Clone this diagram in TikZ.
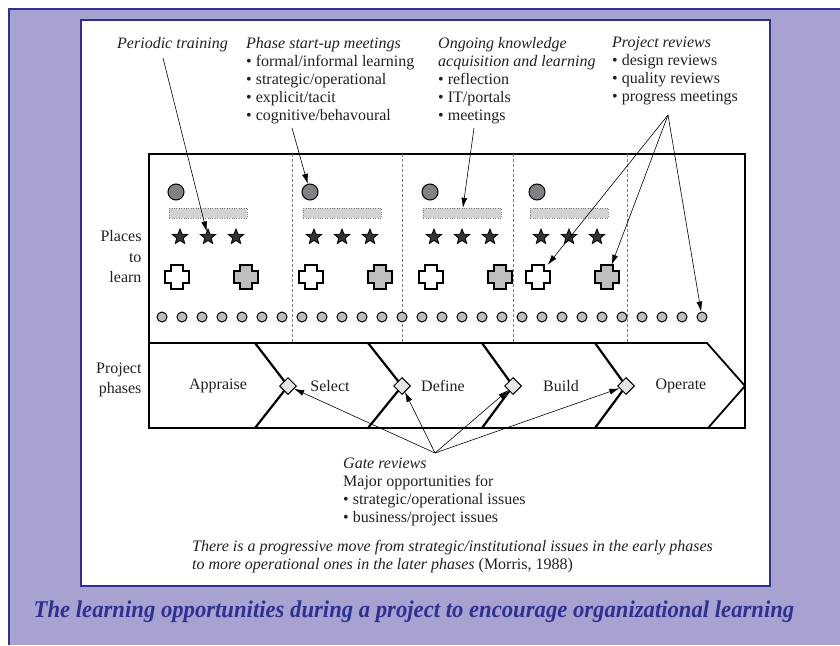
\documentclass[tikz,border=0pt]{standalone}
\usepackage{fontspec}
\setmainfont{Liberation Serif}
\usepackage{graphicx}
\usetikzlibrary{positioning,calc,shapes.geometric,arrows.meta}
\definecolor{panelblue}{HTML}{2E3192}
\definecolor{lilac}{HTML}{A7A2D0}
\definecolor{inkgray}{HTML}{231F20}
\definecolor{dotgray}{HTML}{BCBEC0}
\definecolor{ballgray}{HTML}{808285}
\definecolor{bargray}{HTML}{D1D3D4}
\definecolor{crossgray}{HTML}{BCBEC0}

% plus sign drawn round a named node
\newcommand\drawplus[2]{%
  \draw[line width=1.3pt,fill=#2] (#1.center) ++(-6,-12) -- ++(12,0) -- ++(0,6)
    -- ++(6,0) -- ++(0,12) -- ++(-6,0) -- ++(0,6) -- ++(-12,0) -- ++(0,-6)
    -- ++(-6,0) -- ++(0,-12) -- ++(6,0) -- cycle;}

\tikzset{
  every node/.style={font=\fontsize{16}{18}\selectfont,text=inkgray},
  ball/.style={circle,draw=black,fill=ballgray,line width=1pt,minimum size=16pt,inner sep=0pt},
  learnbar/.style={draw=gray,dotted,fill=bargray,minimum width=78pt,minimum height=10pt,inner sep=0pt},
  starmark/.style={star,star points=5,star point ratio=2.3,draw=black,fill=black!80,minimum size=16pt,inner sep=0pt,line width=0.8pt},
  dotmark/.style={circle,draw=black,fill=dotgray,line width=1pt,minimum size=10pt,inner sep=0pt},
  gatemark/.style={diamond,draw=black,fill=gray!20,line width=1pt,minimum size=17pt,inner sep=0pt},
  crossmark/.style={minimum size=24pt,inner sep=0pt},
  pointer/.style={-{Latex[length=10pt,width=6pt]},line width=0.6pt},
  frameline/.style={line width=1.8pt},
  chevron/.style={line width=2.2pt},
  colsep/.style={gray,line width=0.6pt,dash pattern=on 3pt off 2pt},
  note/.style={align=left,inner sep=0pt,anchor=north west},
}

\begin{document}
\begin{tikzpicture}[x=1pt,y=-1pt]
  \useasboundingbox (0,0) rectangle (840,645);
  \fill[white] (0,0) rectangle (840,645);
  \fill[lilac] (9,9) rectangle (840,645);
  \draw[panelblue,line width=2pt] (9,645) -- (9,9) -- (840,9);
  \draw[panelblue,line width=1.6pt,fill=white] (81,20) rectangle (770,586);

  % texts above the frame
  \node[note] (ptrain) at (117,37) {\textit{Periodic training}};
  \node[note] (pstart) at (246,37) {\textit{Phase start-up meetings}\\\textbullet{} formal/informal learning\\\textbullet{} strategic/operational\\\textbullet{} explicit/tacit\\\textbullet{} cognitive/behavoural};
  \node[note] (ongo) at (438,37) {\textit{Ongoing knowledge}\\\textit{acquisition and learning}\\\textbullet{} reflection\\\textbullet{} IT/portals\\\textbullet{} meetings};
  \node[note] (prev) at (612,37) {\textit{Project reviews}\\\textbullet{} design reviews\\\textbullet{} quality reviews\\\textbullet{} progress meetings};

  % frame and phase band
  \draw[frameline] (149,154) rectangle (745,428);
  \draw[frameline] (149,343) -- (707,343) -- (745,386) -- (708,428);
  \foreach \x in {292,402,513,627}
    \draw[colsep] (\x,154) -- (\x,343);

  \node[anchor=east,align=right,font=\fontsize{16}{20.5}\selectfont] (places) at (145,257) {Places\\to\\learn};
  \node[anchor=east,align=right,font=\fontsize{16}{20}\selectfont] (phases) at (145,380) {Project\\phases};

  % places to learn
  \foreach \a [count=\k] in {169,303,423,530}{
    \node[ball] (ball\k) at (\a+7,192) {};
    \node[learnbar,anchor=west] (bar\k) at (\a,213) {};
    \node[starmark] (star\k-1) at (\a+11,237) {};
    \node[starmark] (star\k-2) at (\a+39,237) {};
    \node[starmark] (star\k-3) at (\a+67,237) {};
    \node[crossmark] (wcross\k) at (\a+8,277) {};
    \node[crossmark] (gcross\k) at (\a+77,277) {};
    \drawplus{wcross\k}{white}
    \drawplus{gcross\k}{crossgray}
  }
  \foreach \i in {0,...,27}
    \node[dotmark] (dot\i) at (162+20*\i,317) {};

  % project phases
  \foreach \t/\p [count=\k] in {255/288,368/402,482/513,595/626}{
    \draw[chevron] (\t,343) -- (\p,386) -- (\t,428);
    \node[gatemark] (gate\k) at (\p,386) {};
  }
  \node (appraise) at (218,386) {Appraise};
  \node (select) at (330,386) {Select};
  \node (define) at (443,386) {Define};
  \node (build) at (561,386) {Build};
  \node (operate) at (681,386) {Operate};

  % texts below
  \node[note] (gate) at (343,458) {\textit{Gate reviews}\\Major opportunities for\\\textbullet{} strategic/operational issues\\\textbullet{} business/project issues};
  \node[note] (move) at (192,540) {\textit{There is a progressive move from strategic/institutional issues in the early phases}\\\textit{to more operational ones in the later phases} (Morris, 1988)};
  \node[font=\fontsize{24}{26}\selectfont\bfseries\itshape,text=panelblue] (caption) at (414,612)
    {\scalebox{0.945}[1]{The learning opportunities during a project to encourage organizational learning}};

  % pointers
  \coordinate (ptrainfoot) at (163,58);
  \coordinate (pstartfoot) at (292,128);
  \coordinate (ongofoot) at (474,128);
  \coordinate (prevhub) at (668,115);
  \coordinate (gatehub) at (435,453);
  \draw[pointer] (ptrainfoot) -- (star1-2);
  \draw[pointer] (pstartfoot) -- (ball2);
  \draw[pointer] (ongofoot) -- (bar3);
  \draw[pointer] (prevhub) -- (wcross4);
  \draw[pointer] (prevhub) -- (gcross4);
  \draw[pointer] (prevhub) -- (dot27);
  \foreach \k in {1,...,4}
    \draw[pointer] (gatehub) -- (gate\k);
\end{tikzpicture}
\end{document}
